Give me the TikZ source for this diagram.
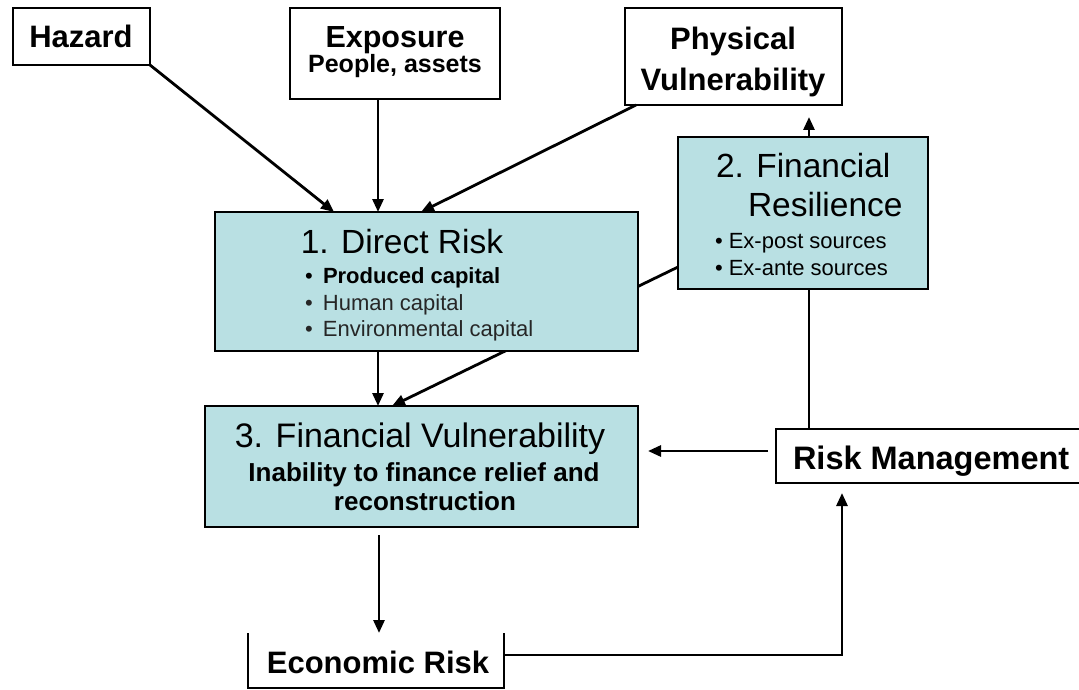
\documentclass[tikz,border=0pt]{standalone}
\usepackage{fontspec}
\setmainfont{Liberation Sans}
\usetikzlibrary{arrows.meta}
\definecolor{cyanfill}{RGB}{185,224,227}
\newcommand{\fsz}[1]{\fontsize{#1}{#1}\selectfont}
\begin{document}
\begin{tikzpicture}[x=1pt,y=-1pt,
  box/.style={draw=black, line width=2.8pt, inner sep=0pt, outer sep=0pt, anchor=north west},
  cbox/.style={box, fill=cyanfill, line width=2.6pt},
  plain/.style={inner sep=0pt, outer sep=0pt, anchor=north west},
  txt/.style={inner sep=0pt, outer sep=0pt, anchor=base},
  txtl/.style={inner sep=0pt, outer sep=0pt, anchor=base west},
  arr/.style={line width=2.8pt, -{Triangle[length=13pt,width=11pt]}},
  ln/.style={line width=2.8pt}]
\useasboundingbox (0,0) rectangle (1079,690);
% boxes
\node[box, minimum width=137pt, minimum height=57pt] (HZ) at (13,8) {};
\node[box, minimum width=210pt, minimum height=91pt] (EX) at (290,8) {};
\node[box, minimum width=217pt, minimum height=97pt] (PV) at (625,8) {};
\node[cbox, minimum width=250pt, minimum height=152pt] (FR) at (678,137) {};
\node[cbox, minimum width=433pt, minimum height=121pt] (FV) at (205,406) {};
\node[box, minimum width=330pt, minimum height=54pt] (RM) at (776,429) {};
\node[plain, minimum width=256pt, minimum height=55pt] (ER) at (248,633) {};
% line behind the direct risk box
\draw[arr] ([yshift=-54pt]FR.west) -- ([xshift=187pt]FV.north west);
\node[cbox, minimum width=423pt, minimum height=139pt] (DR) at (215,212) {};
% economic risk open box
\draw[ln] (ER.north west) -- (ER.south west) -- (ER.south east) -- (ER.north east);
% connectors
\coordinate (ax) at (378,0);
\coordinate (rx) at (809,0);
\coordinate (bx) at (379,0);
\draw[arr] (HZ.south east) -- ([xshift=119pt]DR.north west);
\draw[arr] (ax |- EX.south) -- (ax |- DR.north);
\draw[arr] ([xshift=11pt]PV.south west) -- ([xshift=206pt]DR.north west);
\draw[arr, shorten >=12pt] (rx |- FR.north) -- (rx |- PV.south);
\draw[ln] (rx |- RM.north) -- (rx |- FR.south);
\draw[arr] (ax |- DR.south) -- (ax |- FV.north);
\coordinate (rmL) at ([yshift=5pt]RM.west);
\draw[arr, shorten <=8pt, shorten >=10pt] (rmL) -- (rmL -| FV.east);
\draw[arr, shorten <=8pt] (bx |- FV.south) -- (bx |- ER.north);
\coordinate (cr) at (842,655);
\draw[arr, shorten >=10pt] (ER.east |- cr) -- (cr) -- (cr |- RM.south);
% texts
\node[txt] (tHZ) at (81,48) {\bfseries\fsz{31}Hazard};
\node[txt] (tEX1) at (395,48) {\bfseries\fsz{30.5}Exposure};
\node[txt] (tEX2) at (395,73) {\bfseries\fsz{25}People, assets};
\node[txt] (tPV1) at (733,50) {\bfseries\fsz{31}Physical};
\node[txt] (tPV2) at (733,91) {\bfseries\fsz{31}Vulnerability};
\node[txtl] (tFR1) at (716,178) {\fsz{33.5}2. Financial};
\node[txtl] (tFR2) at (748,216) {\fsz{33.5}Resilience};
\node[txtl] (tFR3) at (715,248) {\fsz{22}• Ex-post sources};
\node[txtl] (tFR4) at (715,275) {\fsz{22}• Ex-ante sources};
\node[txt] (tDR1) at (402,253) {\fsz{33.5}1. Direct Risk};
\node[txtl] (tDR2) at (305,283) {\fsz{22}\makebox[18pt][l]{•}\bfseries Produced capital};
\node[txtl] (tDR3) at (305,310) {\fsz{22}\color{black!85}\makebox[18pt][l]{•}Human capital};
\node[txtl] (tDR4) at (305,336) {\fsz{22}\color{black!85}\makebox[18pt][l]{•}Environmental capital};
\node[txt] (tFV1) at (420,447) {\fsz{34}3. Financial Vulnerability};
\node[txt] (tFV2) at (424,481) {\bfseries\fsz{26}Inability to finance relief and};
\node[txt] (tFV3) at (425,510) {\bfseries\fsz{26}reconstruction};
\node[txtl] (tRM) at (793,469) {\bfseries\fsz{32.5}Risk Management};
\node[txt] (tER) at (378,673) {\bfseries\fsz{31}Economic Risk};
\end{tikzpicture}
\end{document}
